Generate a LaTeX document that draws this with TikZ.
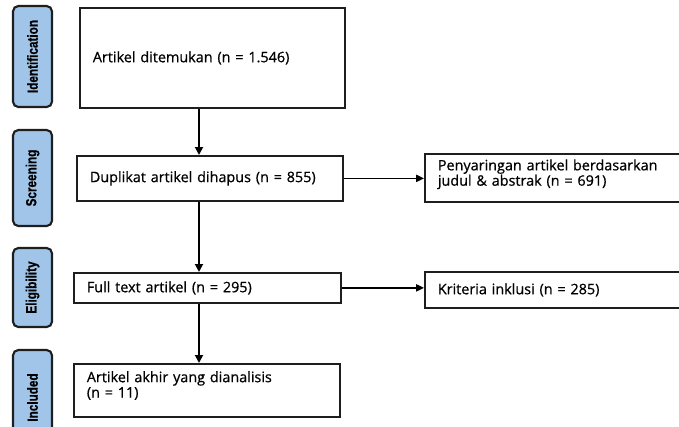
\documentclass[tikz,border=0pt]{standalone}
\usepackage{fontspec}
\setmainfont{Open Sans}
\newfontfamily\boxfont[FakeBold=0.7]{Open Sans}
\newfontfamily\tagfont[FakeStretch=0.8,FakeBold=0.5]{Liberation Sans}
\usetikzlibrary{arrows.meta}
\begin{document}
\begin{tikzpicture}[x=0.75pt,y=0.75pt,yscale=-1,xscale=1,
    stage/.style={draw={rgb, 255:red, 30; green, 30; blue, 30 },line width=1.6pt,rounded corners=4pt,
      fill={rgb, 255:red, 160; green, 197; blue, 232 },rotate=90,minimum height=29.25pt,inner sep=0pt,
      font=\tagfont\bfseries\fontsize{11}{13}\selectfont},
    box/.style={draw={rgb, 255:red, 30; green, 30; blue, 30 },line width=1.3pt,anchor=north west,
      align=left,inner xsep=9.75pt,inner ysep=0pt,font=\boxfont\fontsize{10.8}{11.5}\selectfont},
    flow/.style={line width=1.4pt,-{Triangle[length=6pt,width=6pt]}},
    side/.style={line width=1pt,-{Triangle[length=6pt,width=5.5pt]}}]
  \useasboundingbox (0,0) rectangle (679,426);

  % Stage tags
  \node [stage,minimum width=75.75pt] (ident) at (32.5,56.5) {Identification};
  \node [stage,minimum width=72pt] (screen) at (32.5,178) {Screening};
  \node [stage,minimum width=59.25pt] (elig) at (32.5,287.5) {Eligibility};
  \node [stage,minimum width=71.25pt] (incl) at (32.5,397.5) {Included};

  % Boxes
  \node [box,text width=179.25pt,minimum height=75pt] (found) at (79,7) {Artikel ditemukan (n = 1.546)};
  \node [box,text width=180pt,minimum height=33.75pt] (dup) at (76,155) {Duplikat artikel dihapus (n = 855)};
  \node [box,text width=180.75pt,minimum height=22.5pt] (full) at (73,272) {Full text artikel (n = 295)};
  \node [box,text width=180pt,minimum height=39.75pt] (final) at (73,363) {Artikel akhir yang dianalisis\\(n = 11)\rule[-9pt]{0pt}{9pt}};
  \node [box,text width=183pt,minimum height=36pt] (screened) at (424,153) {Penyaringan artikel berdasarkan\\judul \& abstrak (n = 691)\rule[-8pt]{0pt}{8pt}};
  \node [box,text width=183pt,minimum height=27pt] (crit) at (424,271) {Kriteria inklusi (n = 285)};

  % Connectors
  \coordinate (col) at (199,0);
  \draw [flow] (found.south -| col) -- (dup.north -| col);
  \draw [flow] (dup.south -| col) -- (full.north -| col);
  \draw [flow] (full.south -| col) -- (final.north -| col);
  \draw [side] (dup.east) -- (screened.west |- dup.east);
  \draw [side] (full.east) -- (crit.west |- full.east);
\end{tikzpicture}
\end{document}
